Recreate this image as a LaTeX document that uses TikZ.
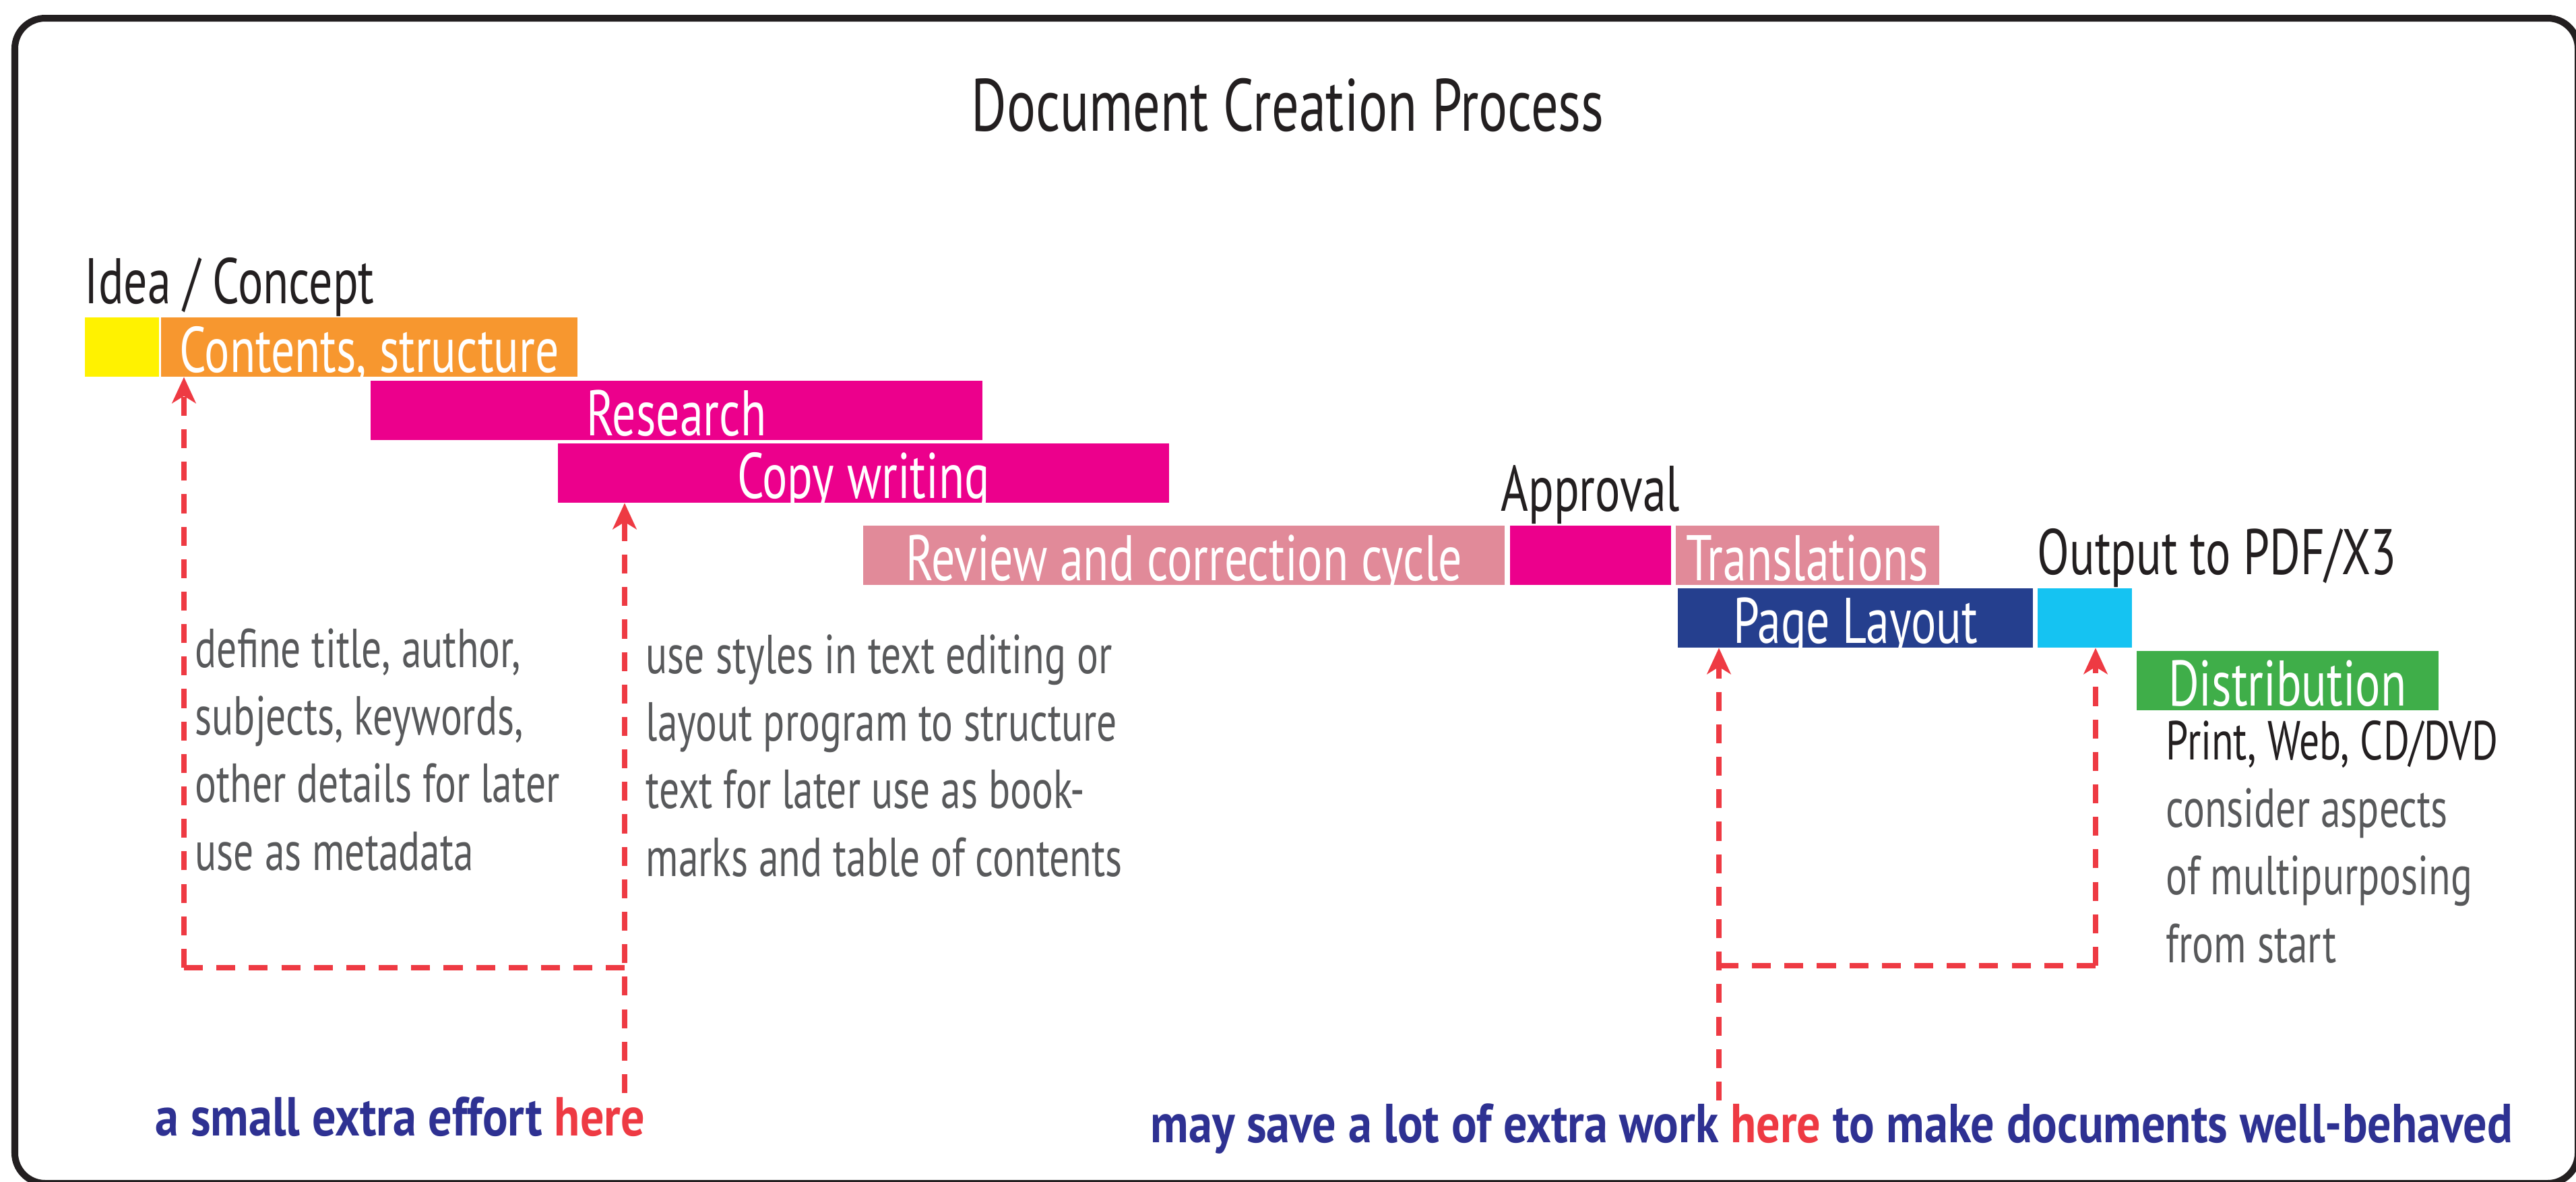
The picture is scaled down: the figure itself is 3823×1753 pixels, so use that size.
\documentclass[tikz,border=0pt]{standalone}
\usepackage{fontspec}
\setmainfont{PT Sans}[FakeStretch=0.73,BoldFeatures={FakeStretch=0.86}]
\usepackage{xcolor}
\usetikzlibrary{arrows.meta}

\definecolor{ideaYellow}{HTML}{FFF200}
\definecolor{contOrange}{HTML}{F7972F}
\definecolor{hotMagenta}{HTML}{EC008C}
\definecolor{reviewPink}{HTML}{E18A99}
\definecolor{layoutNavy}{HTML}{253F8E}
\definecolor{outCyan}{HTML}{15C3F2}
\definecolor{distGreen}{HTML}{3FAE49}
\definecolor{markRed}{HTML}{EE3A43}
\definecolor{noteGray}{HTML}{58595B}
\definecolor{inkBlack}{HTML}{231F20}
\definecolor{hintBlue}{HTML}{2E3192}

\begin{document}
\begin{tikzpicture}[x=0.01cm,y=-0.01cm,>={Stealth[length=11pt,width=10pt,inset=3pt]},
  bar/.style={anchor=north west, inner sep=0pt, minimum height=0.88cm, text height=0.82cm, text depth=0.06cm, text=white, font=\fontsize{27.2}{32}\selectfont},
  phase/.style={anchor=base west, inner sep=0pt, text=inkBlack, font=\fontsize{27.2}{32}\selectfont},
  note/.style={anchor=base west, inner sep=0pt, align=left, text=noteGray, font=\fontsize{23.2}{28.45}\selectfont},
  hint/.style={anchor=base west, inner sep=0pt, text=hintBlue, font=\bfseries\fontsize{23.2}{28}\selectfont},
  flow/.style={draw=markRed, line width=2.4pt, dash pattern=on 8pt off 5.7pt}]

\useasboundingbox (0,0) rectangle (3823,1753);

% Frame and title
\draw[line width=2.85pt, rounded corners=0.45cm, inkBlack] (22,27) rectangle (3826,1756);
\node[inner sep=0pt, anchor=base, text=inkBlack, font=\fontsize{31.3}{36}\selectfont] (title) at (1911,194) {Document Creation Process};

% Draw the phases
\node[bar, fill=ideaYellow, minimum width=1.10cm] (idea) at (125,470) {};
\node[bar, fill=contOrange, minimum width=6.18cm] (contents) at (238,470) {Contents, structure};
\node[bar, fill=hotMagenta, minimum width=9.08cm] (research) at (549,564) {Research};
\node[bar, fill=hotMagenta, minimum width=9.07cm] (copy) at (827,657) {Copy writing};
\node[bar, fill=reviewPink, minimum width=9.52cm] (review) at (1280,779) {Review and correction cycle};
\node[bar, fill=hotMagenta, minimum width=2.39cm] (approval) at (2240,779) {};
\node[bar, fill=reviewPink, minimum width=3.91cm] (translate) at (2486,779) {Translations};
\node[bar, fill=layoutNavy, minimum width=5.27cm] (layout) at (2489,872) {Page Layout};
\node[bar, fill=outCyan, minimum width=1.40cm] (output) at (3023,872) {};
\node[bar, fill=distGreen, minimum width=4.48cm] (distrib) at (3170,965) {Distribution};

% Labels over the short phases
\node[phase] (ideaLbl) at ([yshift=0.20cm]idea.north west) {Idea / Concept};
\node[phase, anchor=base] (approvalLbl) at ([yshift=0.21cm]approval.north) {Approval};
\node[phase] (outputLbl) at ([yshift=0.20cm]output.north west) {Output to PDF/X3};

% Notes (anchored at the last line)
\node[note] (metaNote) at (289,1291) {define title, author,\\subjects, keywords,\\other details for later\\use as metadata};
\node[note] (styleNote) at (958,1300) {use styles in text editing or\\layout program to structure\\text for later use as book-\\marks and table of contents};
\node[note] (mediaNote) at (3214,1428) {\textcolor{inkBlack}{Print, Web, CD/DVD}\\consider aspects\\of multipurposing\\from start};

% Hints at the bottom
\node[hint] (hintA) at (230,1685) {a small extra effort \textcolor{markRed}{here}};
\node[hint] (hintB) at (1707,1695) {may save a lot of extra work \textcolor{markRed}{here} to make documents well-behaved};

% Dashed flows back to the early phases
\coordinate (hereA) at (927,1622);
\coordinate (joinA) at (273,1436);
\coordinate (hereB) at (2551,1633);
\coordinate (joinB) at (3110,1433);
\draw[flow,->] (hereA) -- (hereA |- copy.south);
\draw[flow,->] (joinA) -- (joinA |- contents.south);
\draw[flow] (joinA) -- (joinA -| hereA);
\draw[flow,->] (hereB) -- (hereB |- layout.south);
\draw[flow,->] (joinB) -- (joinB |- output.south);
\draw[flow] (joinB) -- (joinB -| hereB);

\end{tikzpicture}
\end{document}
